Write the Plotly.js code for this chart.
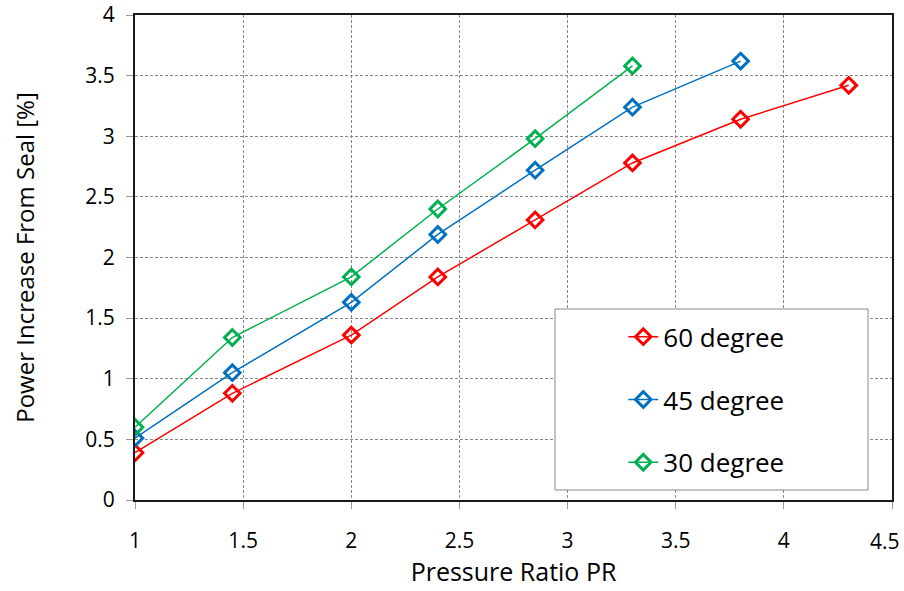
<!DOCTYPE html>
<html>
<head>
<meta charset="utf-8">
<script src="https://cdn.plot.ly/plotly-3.0.1.min.js"></script>
<style>html,body{margin:0;padding:0;background:#fff;}#chart{width:904px;height:591px;}</style>
</head>
<body>
<div id="chart"></div>
<script>
const pressureRatio60 = [1, 1.45, 2, 2.4, 2.85, 3.3, 3.8, 4.3];
const power60 = [0.39, 0.88, 1.36, 1.84, 2.31, 2.78, 3.14, 3.42];
const pressureRatio45 = [1, 1.45, 2, 2.4, 2.85, 3.3, 3.8];
const power45 = [0.51, 1.05, 1.63, 2.19, 2.72, 3.24, 3.62];
const pressureRatio30 = [1, 1.45, 2, 2.4, 2.85, 3.3];
const power30 = [0.60, 1.34, 1.84, 2.40, 2.98, 3.58];
const seriesNames = ['60 degree', '45 degree', '30 degree'];
const seriesColors = ['#FF0000', '#0070C0', '#00B050'];
const xTickVals = [1, 1.5, 2, 2.5, 3, 3.5, 4, 4.5];
const xTickText = ['1', '1.5', '2', '2.5', '3', '3.5', '4', '4.5'];

const xs = [pressureRatio60, pressureRatio45, pressureRatio30];
const ys = [power60, power45, power30];
const font = 'Open Sans, Noto Sans, sans-serif';

const traces = seriesNames.map((n, i) => ({
  x: xs[i], y: ys[i], name: n, type: 'scatter', mode: 'lines+markers',
  legendgroup: 'g' + i,
  line: {color: seriesColors[i], width: 1.5},
  marker: {symbol: 'diamond-open', size: 12, color: seriesColors[i], line: {width: 3, color: seriesColors[i]}}
}));

const axisCommon = {
  showline: true, mirror: true, linecolor: '#1a1a1a', linewidth: 2,
  ticks: 'outside', ticklen: 7, tickcolor: '#999', tickwidth: 1,
  showgrid: true, gridcolor: '#888', griddash: '3px,2px', gridwidth: 1,
  zeroline: false, dtick: 0.5,
  tickfont: {family: font, size: 21, color: '#000'}
};

// the last x label sits against the right edge, so it is drawn right-aligned as in the reference
const lastIdx = xTickText.length - 1;
const shownText = xTickText.map((t, i) => i === lastIdx ? '' : t);

const layout = {
  width: 904, height: 591,
  margin: {l: 135, r: 12, t: 15, b: 91},
  paper_bgcolor: '#fff', plot_bgcolor: '#fff',
  showlegend: true,
  xaxis: Object.assign({}, axisCommon, {
    range: [1, 4.5], tickmode: 'array', tickvals: xTickVals, ticktext: shownText,
    ticklabelstandoff: 14,
    title: {text: 'Pressure Ratio PR', font: {family: font, size: 25, color: '#000'}, standoff: 7}
  }),
  yaxis: Object.assign({}, axisCommon, {
    range: [0, 4], tick0: 0, ticklabelstandoff: 7,
    title: {text: 'Power Increase From Seal [%]', font: {family: font, size: 24, color: '#000'}, standoff: 44}
  }),
  annotations: [{
    text: xTickText[lastIdx], xref: 'x', yref: 'paper', x: xTickVals[lastIdx], y: 0,
    xanchor: 'right', yanchor: 'top', xshift: 10, yshift: -25, showarrow: false,
    font: {family: font, size: 21, color: '#000'}
  }],
  legend: {
    xref: 'paper', yref: 'paper',
    x: 0.645, y: 0.385, xanchor: 'left', yanchor: 'top',
    bgcolor: 'rgba(0,0,0,0)', borderwidth: 0,
    font: {family: font, size: 26, color: '#000'},
    tracegroupgap: 26, traceorder: 'grouped', itemwidth: 30
  },
  shapes: [{
    type: 'rect', xref: 'paper', yref: 'paper',
    x0: (555 - 135) / 757, x1: (868 - 135) / 757,
    y0: (500 - 490) / 485, y1: (500 - 309) / 485,
    line: {color: '#888', width: 1}, fillcolor: '#fff', layer: 'above'
  }]
};

Plotly.newPlot('chart', traces, layout, {displayModeBar: false, staticPlot: true});
</script>
</body>
</html>
